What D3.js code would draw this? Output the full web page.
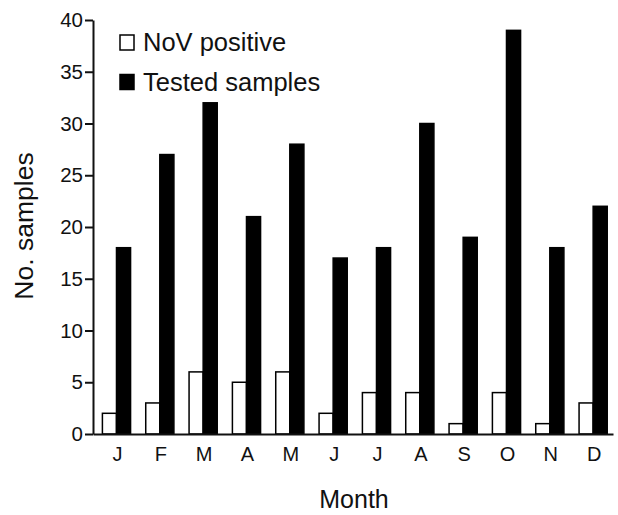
<!DOCTYPE html>
<html>
<head>
<meta charset="utf-8">
<script src="https://cdn.jsdelivr.net/npm/d3@7"></script>
<style>
  body { margin: 0; background: #fff; }
  text { font-family: "Liberation Sans", Arial, sans-serif; fill: #111; }
</style>
</head>
<body>
<div id="graph"></div>
<script>
var months = ["J","F","M","A","M","J","J","A","S","O","N","D"];
var novPositive = [2,3,6,5,6,2,4,4,1,4,1,3];
var testedSamples = [18,27,32,21,28,17,18,30,19,39,18,22];
var yTicks = [0,5,10,15,20,25,30,35,40];
var seriesNames = ["NoV positive","Tested samples"];

var data = months.map(function(m, i) {
	return { idx: i, month: m, values: [novPositive[i], testedSamples[i]] };
});

var svg = d3.select("#graph").append("svg")
	.attr("width", 618)
	.attr("height", 515);

var x = d3.scaleBand()
	.domain(d3.range(months.length))
	.range([93, 613])
	.paddingInner(0.35)
	.paddingOuter(0.175)
	.align(0.62);

var x1 = d3.scaleBand()
	.domain([0, 1])
	.range([0, x.bandwidth()]);

var y = d3.scaleLinear()
	.domain([0, 40])
	.range([434, 20]);

// bars
var groups = svg.selectAll("g.grp")
	.data(data)
	.enter()
		.append("g")
		.attr("class", "grp")
		.attr("transform", function(d) { return "translate(" + x(d.idx) + ",0)"; });

groups.selectAll("rect")
	.data(function(d) { return d.values; })
	.enter()
		.append("rect")
		.attr("x", function(d, i) { return x1(i); })
		.attr("width", x1.bandwidth())
		.attr("y", function(d) { return y(d); })
		.attr("height", function(d) { return y(0) - y(d); })
		.attr("fill", function(d, i) { return i == 0 ? "#fff" : "#000"; })
		.attr("stroke", "#000")
		.attr("stroke-width", 1.5);

// y axis
var yAxis = svg.append("g")
	.attr("transform", "translate(93,0)")
	.call(d3.axisLeft(y).tickValues(yTicks).tickSize(8).tickSizeOuter(0).tickPadding(2));
yAxis.selectAll("text").style("font-size", "20.5px");

// x axis
var xAxis = svg.append("g")
	.attr("transform", "translate(0,434)")
	.call(d3.axisBottom(x).tickSize(0).tickSizeOuter(0).tickPadding(13)
		.tickFormat(function(i) { return months[i]; }));
xAxis.selectAll("text").style("font-size", "20px").attr("dx", "1");

svg.selectAll(".domain, .tick line")
	.attr("stroke", "#111")
	.attr("stroke-width", 2);
svg.selectAll(".tick text").attr("fill", "#111");

// axis titles
svg.append("text")
	.attr("x", 354)
	.attr("y", 508)
	.attr("text-anchor", "middle")
	.style("font-size", "25px")
	.text("Month");

svg.append("text")
	.attr("transform", "translate(33,226) rotate(-90)")
	.attr("text-anchor", "middle")
	.style("font-size", "26.5px")
	.text("No. samples");

// legend
var legend = svg.selectAll("g.legend")
	.data(seriesNames)
	.enter()
		.append("g")
		.attr("class", "legend")
		.attr("transform", function(d, i) { return "translate(120," + (35 + i * 39.5) + ")"; });

legend.append("rect")
	.attr("width", 14)
	.attr("height", 15)
	.attr("fill", function(d, i) { return i == 0 ? "#fff" : "#000"; })
	.attr("stroke", "#000")
	.attr("stroke-width", 1.5);

legend.append("text")
	.attr("x", 23)
	.attr("y", 16)
	.style("font-size", "25.5px")
	.text(function(d) { return d; });
</script>
</body>
</html>
